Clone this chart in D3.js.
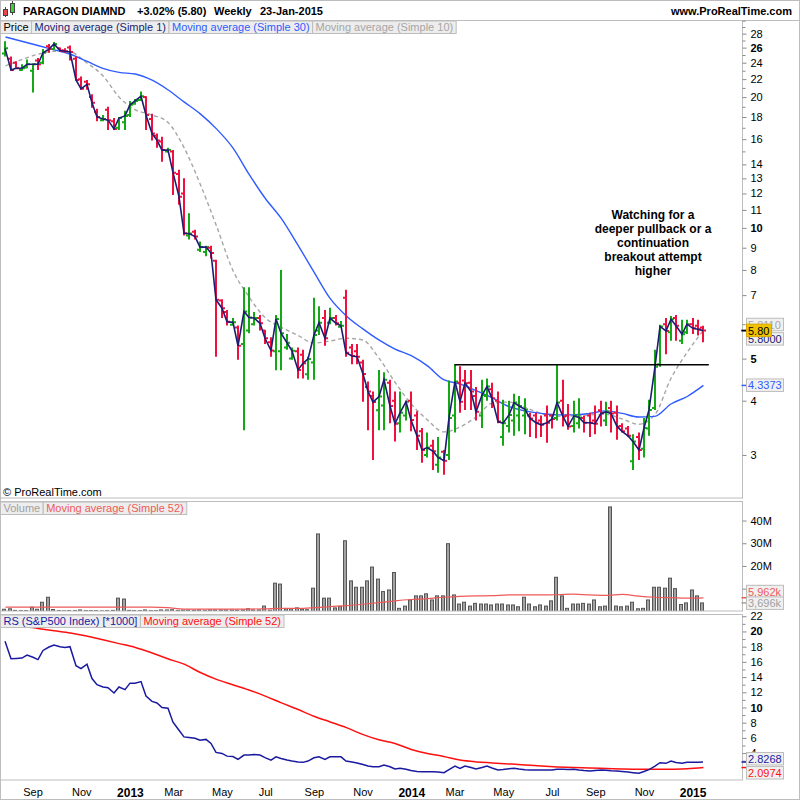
<!DOCTYPE html>
<html>
<head>
<meta charset="utf-8">
<title>Paragon Diamonds - weekly</title>
<script src="https://cdn.jsdelivr.net/npm/d3@7/dist/d3.min.js"></script>
<style>
  body { margin: 0; background: #fff; }
  svg { display: block; font-family: "Liberation Sans", Arial, sans-serif; }
</style>
</head>
<body>
<svg id="chart" width="800" height="800"></svg>
<script>
'use strict';

// weekly bars, dated by the Monday of each week
const firstWeek = "2012-07-30";
const lastWeek = "2015-01-19";

const opens = [
  25.2, 24.5, 24.0, 23.1, 23.4, 23.0, 24.3, 24.0, 26.2, 25.8,
  25.9, 25.6, 26.0, 24.5, 22.0, 21.7, 20.0, 18.5, 17.7, 18.7,
  17.6, 17.0, 17.5, 18.2, 19.3, 19.7, 20.0, 17.8, 16.3, 15.8,
  15.0, 15.0, 13.3, 12.0, 9.6, 9.8, 8.9, 8.8, 9.0, 8.4,
  6.8, 6.4, 5.98, 5.9, 5.4, 5.8, 6.0, 6.2, 5.8, 5.45,
  5.2, 5.2, 5.3, 5.0, 5.2, 5.1, 4.6, 4.9, 5.8, 6.2,
  6.05, 6.2, 5.92, 6.9, 5.3, 5.2, 4.9, 4.3, 4.1, 3.8,
  3.9, 4.4, 4.0, 3.55, 3.7, 4.0, 3.7, 3.4, 3.0, 3.15,
  2.85, 3.05, 3.0, 3.7, 4.4, 4.45, 4.4, 4.1, 3.7, 4.1,
  4.25, 4.0, 3.3, 3.5, 3.6, 3.7, 3.7, 3.7, 3.7, 3.6,
  3.7, 3.7, 3.65, 4.0, 3.7, 3.5, 3.55, 3.65, 3.7, 3.6,
  3.8, 3.6, 3.85, 3.75, 3.5, 3.45, 2.9, 3.3, 3.1, 3.45,
  3.85, 4.85, 6.0, 5.75, 6.2, 5.5, 5.75, 6.0, 5.95, 5.9
];
const highs = [
  26.9, 24.8, 24.2, 23.8, 24.4, 23.9, 24.6, 25.8, 26.5, 26.8,
  26.0, 25.9, 26.3, 24.8, 22.3, 21.9, 20.3, 18.8, 18.2, 19.0,
  17.9, 18.0, 18.6, 19.6, 19.8, 20.6, 20.1, 18.3, 16.5, 16.2,
  15.3, 15.1, 13.6, 13.0, 10.8, 9.9, 9.3, 9.1, 9.1, 8.45,
  6.85, 6.47, 6.2, 5.96, 7.3, 7.3, 6.4, 6.3, 5.82, 5.6,
  6.3, 8.0, 5.7, 5.3, 5.3, 5.24, 5.05, 6.9, 6.6, 6.47,
  6.55, 6.3, 6.1, 7.2, 5.4, 5.4, 4.97, 4.43, 4.2, 4.71,
  4.65, 4.47, 4.2, 4.2, 4.0, 4.2, 3.78, 3.46, 3.38, 3.25,
  3.3, 3.08, 4.45, 4.85, 4.8, 4.71, 4.71, 4.3, 4.47, 4.5,
  4.4, 4.2, 4.02, 4.0, 4.15, 4.1, 4.05, 3.75, 3.75, 3.7,
  3.9, 3.72, 4.85, 4.47, 3.93, 4.0, 4.05, 3.7, 3.75, 3.9,
  4.0, 3.98, 4.0, 3.9, 3.55, 3.5, 3.35, 3.38, 3.65, 4.02,
  5.24, 5.98, 6.2, 6.27, 6.3, 6.14, 6.14, 6.2, 6.14, 5.95
];
const lows = [
  24.8, 23.0, 23.2, 23.0, 23.3, 20.5, 23.1, 23.8, 25.3, 25.7,
  25.4, 25.3, 24.3, 21.8, 20.8, 20.8, 18.9, 17.6, 17.6, 16.8,
  16.8, 16.8, 16.8, 18.0, 19.2, 19.6, 16.8, 15.9, 15.3, 14.2,
  14.9, 11.9, 11.3, 9.6, 9.4, 9.4, 8.8, 8.6, 8.5, 5.05,
  6.2, 5.96, 5.95, 4.97, 3.42, 5.72, 5.96, 5.8, 5.4, 5.05,
  4.7, 4.7, 5.24, 4.97, 4.5, 4.5, 4.47, 4.47, 5.67, 5.35,
  6.0, 5.96, 5.9, 5.05, 4.85, 4.85, 3.98, 3.42, 2.92, 3.42,
  3.42, 3.55, 3.22, 3.38, 3.6, 3.4, 3.08, 2.88, 2.96, 2.77,
  2.73, 2.7, 2.92, 3.38, 3.75, 3.81, 3.81, 3.6, 3.46, 4.0,
  3.85, 3.55, 3.15, 3.38, 3.32, 3.4, 3.35, 3.3, 3.28, 3.3,
  3.2, 3.45, 3.6, 3.49, 3.43, 3.38, 3.45, 3.38, 3.3, 3.35,
  3.49, 3.5, 3.38, 3.25, 3.38, 3.3, 2.77, 2.92, 2.96, 3.32,
  3.81, 4.79, 5.12, 5.5, 5.5, 5.4, 5.7, 5.7, 5.65, 5.45
];
const closes = [
  25.9, 23.1, 23.3, 23.3, 23.8, 23.8, 23.8, 25.3, 25.8, 26.5,
  25.6, 25.5, 25.4, 21.9, 20.9, 21.4, 19.4, 18.0, 17.8, 17.7,
  16.9, 17.9, 18.1, 19.2, 19.6, 20.1, 18.2, 16.5, 15.9, 15.1,
  15.1, 13.4, 11.8, 9.72, 9.7, 9.55, 9.03, 9.03, 8.75, 6.83,
  6.53, 6.08, 6.06, 5.35, 6.42, 6.22, 6.2, 6.03, 5.57, 5.22,
  6.17, 5.72, 5.44, 5.21, 4.71, 4.88, 4.99, 5.67, 6.05, 5.57,
  6.2, 6.03, 5.95, 5.16, 5.07, 5.05, 4.61, 4.2, 3.97, 4.09,
  4.47, 3.89, 3.54, 3.75, 3.98, 3.61, 3.32, 3.08, 3.12, 3.06,
  2.96, 2.91, 3.65, 4.43, 3.98, 4.39, 4.2, 3.77, 4.12, 4.31,
  4.05, 3.58, 3.55, 3.71, 3.96, 3.89, 3.82, 3.64, 3.56, 3.52,
  3.56, 3.63, 3.96, 3.68, 3.49, 3.69, 3.66, 3.56, 3.56, 3.54,
  3.74, 3.77, 3.74, 3.49, 3.40, 3.32, 3.22, 3.08, 3.46, 3.81,
  4.79, 5.93, 5.79, 6.16, 5.95, 5.69, 6.0, 5.87, 5.84, 5.80
];
// volume in millions of shares
const volumes = [
  0.9, 1.1, 0.4, 0.3, 0.3, 1.8, 0.9, 4.0, 6.2, 0.8,
  0.3, 0.2, 0.3, 0.3, 0.6, 0.3, 0.3, 0.3, 0.2, 0.3,
  0.4, 5.8, 5.4, 0.4, 0.3, 0.3, 0.6, 0.3, 0.3, 0.6,
  0.6, 0.7, 0.4, 0.5, 0.6, 0.4, 0.6, 0.3, 0.6, 0.6,
  0.6, 0.6, 0.6, 0.5, 0.6, 1.1, 0.6, 0.6, 2.3, 0.5,
  12.4, 12.0, 1.1, 1.1, 1.5, 0.9, 0.7, 10.2, 34.1, 5.8,
  5.8, 1.5, 2.1, 31.1, 13.4, 10.6, 10.6, 13.4, 19.5, 14.2,
  8.7, 9.4, 17.1, 1.3, 2.3, 5.0, 6.8, 6.8, 7.7, 5.0,
  6.8, 6.8, 29.8, 7.2, 3.2, 4.0, 2.3, 3.5, 3.2, 3.2,
  2.8, 3.2, 3.2, 2.8, 2.8, 2.0, 6.2, 3.2, 2.0, 2.8,
  2.3, 4.6, 15.0, 6.8, 1.3, 3.2, 3.2, 3.5, 3.2, 5.0,
  2.0, 2.3, 46.0, 2.3, 2.0, 2.3, 4.0, 1.1, 1.3, 5.0,
  10.6, 10.6, 10.2, 14.6, 10.0, 3.0, 3.7, 9.4, 6.8, 3.696
];
// relative strength vs S&P500 (*1000)
const rs = [
  18.7, 16.4, 16.45, 16.5, 16.9, 16.6, 16.3, 17.5, 17.95, 18.2,
  18.0, 17.9, 18.0, 15.5, 15.1, 15.7, 13.8, 13.0, 12.7, 12.6,
  11.9, 12.7, 12.35, 13.2, 13.2, 13.4, 11.5, 10.8, 10.6, 10.0,
  9.9, 8.06, 7.0, 6.13, 6.05, 5.96, 5.7, 5.8, 5.27, 4.09,
  3.96, 3.6, 3.54, 3.17, 3.74, 3.74, 3.8, 3.74, 3.4, 3.08,
  3.51, 3.28, 3.08, 2.95, 2.82, 2.78, 2.95, 3.38, 3.51, 3.17,
  3.51, 3.51, 3.51, 2.95, 2.82, 2.69, 2.49, 2.29, 2.2, 2.2,
  2.42, 2.2, 1.9, 1.99, 1.86, 1.7, 1.57, 1.55, 1.55, 1.55,
  1.5, 1.42, 1.83, 2.29, 1.99, 2.29, 2.1, 1.9, 2.1, 2.29,
  2.03, 1.77, 1.83, 1.94, 1.99, 1.9, 1.81, 1.77, 1.77, 1.77,
  1.77, 1.77, 1.86, 1.86, 1.83, 1.86, 1.77, 1.7, 1.64, 1.7,
  1.77, 1.73, 1.68, 1.64, 1.57, 1.5, 1.42, 1.34, 1.57, 1.83,
  2.29, 2.73, 2.65, 2.95, 2.75, 2.65, 2.78, 2.78, 2.78, 2.8268
];

// moving averages, one value every 3rd week
const sampleStep = 3;
const ma30 = [
  27.5, 26.9, 26.3, 25.7, 25.1, 24.2, 23.3, 22.8, 22.6, 21.9,
  20.8, 19.5, 18.3, 16.9, 15.3, 13.3, 11.7, 10.5, 9.15, 7.92,
  6.88, 6.27, 5.86, 5.52, 5.26, 5.08, 4.81, 4.47, 4.37, 4.22,
  4.06, 3.88, 3.79, 3.74, 3.71, 3.71, 3.74, 3.79, 3.74, 3.67,
  3.68, 3.93, 4.09, 4.3373
];
const ma10 = [
  23.6, 24.4, 25.1, 25.5, 25.4, 24.0, 22.4, 20.0, 18.7, 18.2,
  17.5, 15.3, 12.6, 10.1, 8.0, 6.94, 6.21, 5.90, 5.66, 5.43,
  5.49, 5.57, 5.52, 5.02, 4.41, 3.93, 3.61, 3.39, 3.48, 3.67,
  3.95, 3.97, 3.86, 3.74, 3.68, 3.69, 3.71, 3.72, 3.63, 3.53,
  3.71, 4.50, 5.17, 5.8110
];
const volMa52 = [
  1.8, 1.8, 1.8, 1.8, 1.8, 1.8, 1.8, 1.8, 1.8, 1.8,
  1.6, 1.0, 1.0, 1.0, 1.0, 1.0, 1.1, 1.3, 1.3, 1.6,
  2.1, 2.5, 3.1, 3.8, 4.6, 5.2, 5.6, 6.2, 6.6, 6.8,
  6.9, 7.2, 7.2, 7.2, 7.3, 7.6, 7.2, 7.0, 7.5, 6.7,
  6.2, 6.0, 5.8, 5.962
];
const rsMa52 = [
  20.9, 20.7, 20.4, 20.1, 19.8, 19.4, 18.9, 18.4, 17.9, 17.2,
  16.4, 15.7, 14.6, 13.7, 13.0, 12.3, 11.5, 10.6, 9.76, 8.85,
  8.1, 7.35, 6.46, 5.75, 5.27, 4.48, 3.96, 3.56, 3.08, 2.84,
  2.71, 2.58, 2.44, 2.29, 2.18, 2.12, 2.03, 1.97, 1.9, 1.86,
  1.86, 1.88, 1.93, 2.0974
];

// resistance line drawn on the chart
const resistanceFrom = "2014-03-03";
const resistanceTo = "2015-01-26";
const resistanceLevel = 4.84;

// axis ticks
const priceTicks = [28, 26, 24, 22, 20, 18, 16, 14, 13, 12, 11, 10, 9, 8, 7, 5, 4, 3];
const priceBold = [26, 10, 5];
const priceMinor = [30, 29, 27, 25, 23, 21, 19, 17, 15, 6];
const volTicks = [10, 20, 30, 40];
const rsTicks = [4, 6, 8, 10, 12, 14, 16, 18, 20, 22];
const rsMinor = [3, 5, 7, 9, 11, 13, 15, 17, 19, 21];
const rsBold = [10, 20];

const noteLines = ["Watching for a", "deeper pullback or a", "continuation", "breakout attempt", "higher"];

(function() {

  const upColor = "#14a814";
  const downColor = "#f0103e";
  const closeColor = "#1c1c72";
  const ma30Color = "#2f5cff";
  const ma10Color = "#a6a6a6";
  const frameColor = "#bdbdbd";

  const plotW = 742.5;
  const panels = {
    price: { top: 20.5, bottom: 498 },
    vol: { top: 501.5, bottom: 611 },
    rs: { top: 614.5, bottom: 780 }
  };

  const svg = d3.select('#chart');
  const parse = d3.utcParse('%Y-%m-%d');

  const weeks = d3.utcMonday.range(parse(firstWeek), d3.utcDay.offset(parse(lastWeek), 1));
  const bars = weeks.map((d, i) => ({
    date: d, o: opens[i], h: highs[i], l: lows[i], c: closes[i], v: volumes[i], rs: rs[i]
  }));
  const sampled = (arr) => arr.map((v, k) => ({ date: weeks[Math.min(k * sampleStep, weeks.length - 1)], v: v }));

  // time scale: first bar sits a week in from the left edge
  const day = 864e5;
  const x = d3.scaleTime()
    .domain([new Date(weeks[0].getTime() - 7.1 * day), new Date(weeks[0].getTime() + 954.2 * day)])
    .range([0, 743]);
  const bx = d => Math.round(x(d));

  const yPrice = d3.scaleLog().domain([2.388, 30.1]).range([panels.price.bottom, 20]);
  const yVol = d3.scaleLinear().domain([0, 48.4]).range([611.3, 501.5]);
  const yRs = d3.scaleLinear().domain([0.46, 22.23]).range([panels.rs.bottom, panels.rs.top]);

  // clip groups for each panel
  function panelGroup(name) {
    const p = panels[name];
    svg.append('clipPath').attr('id', 'clip-' + name)
      .append('rect')
        .attr('x', 0).attr('y', p.top)
        .attr('width', plotW).attr('height', p.bottom - p.top);
    return svg.append('g').attr('clip-path', 'url(#clip-' + name + ')');
  }

  // ---- header ----
  svg.append('line').attr('x1', 0).attr('x2', 800).attr('y1', 20.5).attr('y2', 20.5).attr('stroke', frameColor);
  const icon = svg.append('g');
  icon.append('line').attr('x1', 5.5).attr('x2', 5.5).attr('y1', 7).attr('y2', 17).attr('stroke', '#444');
  icon.append('rect').attr('x', 3.5).attr('y', 9.5).attr('width', 4).attr('height', 6)
    .attr('fill', '#e8474f').attr('stroke', '#444');
  icon.append('line').attr('x1', 12.5).attr('x2', 12.5).attr('y1', 1).attr('y2', 15).attr('stroke', '#444');
  icon.append('rect').attr('x', 10.5).attr('y', 3.5).attr('width', 4).attr('height', 9)
    .attr('fill', '#3fcf3f').attr('stroke', '#444');

  const header = [
    { x: 23, t: 'PARAGON DIAMND' },
    { x: 137, t: '+3.02% (5.80)' },
    { x: 214, t: 'Weekly' },
    { x: 260, t: '23-Jan-2015' }
  ];
  svg.selectAll('.hdr').data(header).enter().append('text')
    .attr('x', d => d.x).attr('y', 15)
    .attr('font-size', 11).attr('font-weight', 'bold')
    .text(d => d.t);
  svg.append('text').attr('x', 792).attr('y', 15)
    .attr('text-anchor', 'end').attr('font-size', 11).attr('font-weight', 'bold')
    .text('www.ProRealTime.com');

  // ---- price panel ----
  const gPrice = panelGroup('price');

  gPrice.append('path')
    .datum(sampled(ma10))
    .attr('fill', 'none').attr('stroke', ma10Color).attr('stroke-width', 1.4)
    .attr('stroke-dasharray', '4,3')
    .attr('d', d3.line().x(d => x(d.date)).y(d => yPrice(d.v)).curve(d3.curveMonotoneX));

  gPrice.append('path')
    .datum(sampled(ma30))
    .attr('fill', 'none').attr('stroke', ma30Color).attr('stroke-width', 1.4)
    .attr('d', d3.line().x(d => x(d.date)).y(d => yPrice(d.v)).curve(d3.curveMonotoneX));

  gPrice.append('g').selectAll('path')
    .data(bars)
    .enter().append('path')
      .attr('fill', 'none')
      .attr('stroke-width', 2)
      .attr('stroke', d => d.c >= d.o ? upColor : downColor)
      .attr('d', d => {
        const px = bx(d.date);
        return 'M' + px + ',' + yPrice(d.h) + 'V' + yPrice(d.l) +
          'M' + (px - 3) + ',' + yPrice(d.o) + 'H' + px +
          'M' + px + ',' + yPrice(d.c) + 'H' + (px + 3);
      });

  gPrice.append('path')
    .datum(bars)
    .attr('fill', 'none').attr('stroke', closeColor).attr('stroke-width', 1.6)
    .attr('d', d3.line().x(d => bx(d.date)).y(d => yPrice(d.c)));

  gPrice.append('line')
    .attr('x1', x(parse(resistanceFrom))).attr('x2', x(parse(resistanceTo)))
    .attr('y1', yPrice(resistanceLevel)).attr('y2', yPrice(resistanceLevel))
    .attr('stroke', '#000').attr('stroke-width', 1.5);

  svg.append('g').selectAll('text')
    .data(noteLines)
    .enter().append('text')
      .attr('x', 653).attr('y', (d, i) => 218.5 + i * 14.2)
      .attr('text-anchor', 'middle').attr('font-size', 12).attr('font-weight', 'bold')
      .text(d => d);

  svg.append('text').attr('x', 3).attr('y', 495.5).attr('font-size', 11).text('\u00a9 ProRealTime.com');

  // ---- volume panel ----
  const gVol = panelGroup('vol');
  gVol.append('g').selectAll('rect')
    .data(bars)
    .enter().append('rect')
      .attr('x', d => bx(d.date) - 2.5)
      .attr('width', 3)
      .attr('y', d => yVol(d.v))
      .attr('height', d => yVol(0) - yVol(d.v))
      .attr('fill', '#a3a3a3').attr('stroke', '#555').attr('stroke-width', 1);

  gVol.append('path')
    .datum(sampled(volMa52))
    .attr('fill', 'none').attr('stroke', '#ee5a5a').attr('stroke-width', 1.2)
    .attr('d', d3.line().x(d => x(d.date)).y(d => yVol(d.v)).curve(d3.curveMonotoneX));

  // ---- RS panel ----
  const gRs = panelGroup('rs');
  gRs.append('path')
    .datum(sampled(rsMa52))
    .attr('fill', 'none').attr('stroke', '#ff1010').attr('stroke-width', 1.5)
    .attr('d', d3.line().x(d => x(d.date)).y(d => yRs(d.v)).curve(d3.curveMonotoneX));
  gRs.append('path')
    .datum(bars)
    .attr('fill', 'none').attr('stroke', '#1a1aa0').attr('stroke-width', 1.5)
    .attr('d', d3.line().x(d => bx(d.date)).y(d => yRs(d.rs)));

  // ---- frames ----
  Object.keys(panels).forEach(k => {
    const p = panels[k];
    svg.append('rect')
      .attr('x', 0.5).attr('y', p.top)
      .attr('width', plotW - 0.5).attr('height', p.bottom - p.top)
      .attr('fill', 'none').attr('stroke', frameColor);
  });
  svg.append('rect').attr('x', 0.5).attr('y', 0.5).attr('width', 799).attr('height', 799)
    .attr('fill', 'none').attr('stroke', frameColor);

  // ---- legends ----
  function legend(top, items) {
    let pos = 0.5;
    items.forEach(item => {
      const box = svg.append('rect');
      const t = svg.append('text')
        .attr('x', pos + 3).attr('y', top + 10)
        .attr('font-size', 11).attr('fill', item.color)
        .text(item.text);
      const w = t.node().getComputedTextLength() + 6;
      box.attr('x', pos).attr('y', top).attr('width', w).attr('height', 12.5)
        .attr('fill', '#ededed').attr('stroke', frameColor);
      pos += w;
    });
  }
  legend(21, [
    { text: 'Price', color: '#000' },
    { text: 'Moving average (Simple 1)', color: closeColor },
    { text: 'Moving average (Simple 30)', color: ma30Color },
    { text: 'Moving average (Simple 10)', color: ma10Color }
  ]);
  legend(502, [
    { text: 'Volume', color: '#a0a0a0' },
    { text: 'Moving average (Simple 52)', color: '#ee5a5a' }
  ]);
  legend(615, [
    { text: 'RS (S&P500 Index) [*1000]', color: '#1a1aa0' },
    { text: 'Moving average (Simple 52)', color: '#ff1010' }
  ]);

  // ---- right axes ----
  function rightAxis(scale, values, fmt, bold, size) {
    const g = svg.append('g')
      .attr('transform', 'translate(' + plotW + ',0)')
      .call(d3.axisRight(scale).tickValues(values).tickSize(size).tickPadding(4).tickFormat(fmt));
    g.select('.domain').remove();
    g.attr('font-size', 11).attr('font-family', null);
    g.selectAll('line').attr('stroke', '#8a8a8a');
    g.selectAll('text').attr('fill', '#000')
      .attr('font-weight', d => bold.indexOf(d) >= 0 ? 'bold' : null);
    return g;
  }
  rightAxis(yPrice, priceTicks, d3.format('d'), priceBold, 4);
  rightAxis(yPrice, priceMinor, () => '', [], 3);
  rightAxis(yVol, volTicks, d => d + 'M', [], 4);
  rightAxis(yRs, rsTicks, d3.format('d'), rsBold, 4);
  rightAxis(yRs, rsMinor, () => '', [], 3);

  // ---- bottom time axis ----
  const monthTicks = weeks.filter((d, i) => i > 0 &&
    d.getUTCMonth() !== weeks[i - 1].getUTCMonth() && d.getUTCMonth() % 2 === 0);
  const xAxis = svg.append('g')
    .attr('transform', 'translate(0,' + panels.rs.bottom + ')')
    .call(d3.axisBottom(x).tickValues(monthTicks).tickSize(0).tickPadding(8)
      .tickFormat(d => d.getUTCMonth() === 0 ? d3.utcFormat('%Y')(d) : d3.utcFormat('%b')(d)));
  xAxis.select('.domain').remove();
  xAxis.attr('font-family', null);
  xAxis.selectAll('text')
    .attr('fill', '#000')
    .attr('font-size', d => d.getUTCMonth() === 0 ? 12 : 11)
    .attr('font-weight', d => d.getUTCMonth() === 0 ? 'bold' : null);

  // ---- last value tags ----
  function tag(yVal, dy, label, color, bg, w) {
    svg.append('line')
      .attr('x1', plotW - 1).attr('x2', plotW + 4)
      .attr('y1', yVal).attr('y2', yVal)
      .attr('stroke', color === '#000' ? '#000' : color).attr('stroke-width', 1.5);
    const cy = yVal + dy;
    svg.append('rect')
      .attr('x', 746.5).attr('y', cy - 6.5).attr('width', w).attr('height', 12.5)
      .attr('fill', bg).attr('stroke', bg === '#f2c200' ? '#d9a800' : frameColor);
    svg.append('text')
      .attr('x', 748).attr('y', cy + 4)
      .attr('font-size', 11).attr('fill', color)
      .text(label);
  }
  const f4 = d3.format('.4f');
  const fk = v => d3.format(',')(Math.round(v * 1000)) + 'k';
  const lastClose = closes[closes.length - 1];

  tag(yPrice(ma10[ma10.length - 1]), -5.5, f4(ma10[ma10.length - 1]), ma10Color, '#f0f0f0', 37);
  tag(yPrice(lastClose), 8.5, f4(lastClose), closeColor, '#f0f0f0', 37);
  tag(yPrice(lastClose), 0, d3.format('.2f')(lastClose), '#000', '#f2c200', 25);
  tag(yPrice(ma30[ma30.length - 1]), 0, f4(ma30[ma30.length - 1]), ma30Color, '#f0f0f0', 37);

  tag(yVol(volMa52[volMa52.length - 1]), -6, fk(volMa52[volMa52.length - 1]), '#ee5a5a', '#f0f0f0', 37);
  tag(yVol(volumes[volumes.length - 1]), 0.5, fk(volumes[volumes.length - 1]), '#a0a0a0', '#f0f0f0', 37);

  tag(yRs(rs[rs.length - 1]), -3, f4(rs[rs.length - 1]), '#1a1aa0', '#f0f0f0', 37);
  tag(yRs(rsMa52[rsMa52.length - 1]), 5.5, f4(rsMa52[rsMa52.length - 1]), '#ff1010', '#f0f0f0', 37);

})();
</script>
</body>
</html>
